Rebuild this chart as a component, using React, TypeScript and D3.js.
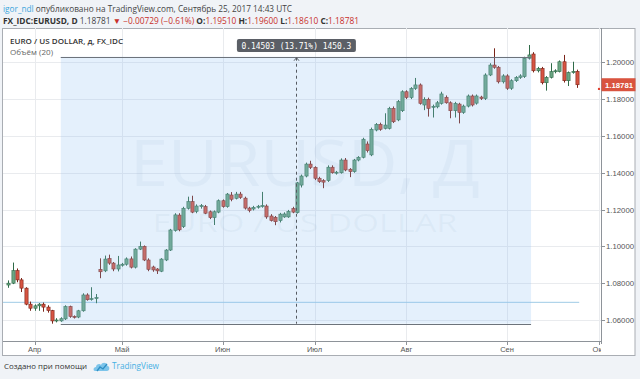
import React from "react";
import * as d3 from "d3";

// ---- DATA ----
const opens = [
  1.0790, 1.0800, 1.0868, 1.0818, 1.0773, 1.0686, 1.0664, 1.0677, 1.0686, 1.0670,
  1.0651, 1.0597, 1.0595, 1.0606, 1.0673, 1.0620, 1.0616, 1.0650, 1.0736, 1.0712,
  1.0716, 1.0875, 1.0867, 1.0934, 1.0909, 1.0877, 1.0899, 1.0903, 1.0932, 1.0887,
  1.0985, 1.1000, 1.0926, 1.0888, 1.0877, 1.0865, 1.0926, 1.0980, 1.1086, 1.1170,
  1.1107, 1.1207, 1.1243, 1.1190, 1.1219, 1.1216, 1.1188, 1.1156, 1.1186, 1.1248,
  1.1216, 1.1279, 1.1261, 1.1284, 1.1262, 1.1208, 1.1203, 1.1214, 1.1217, 1.1219,
  1.1165, 1.1158, 1.1140, 1.1160, 1.1160, 1.1205, 1.1183, 1.1333, 1.1382, 1.1447,
  1.1429, 1.1370, 1.1357, 1.1357, 1.1430, 1.1400, 1.1400, 1.1469, 1.1419, 1.1406,
  1.1469, 1.1484, 1.1556, 1.1497, 1.1632, 1.1663, 1.1641, 1.1641, 1.1750, 1.1687,
  1.1737, 1.1840, 1.1809, 1.1858, 1.1877, 1.1768, 1.1799, 1.1758, 1.1758, 1.1777,
  1.1810, 1.1780, 1.1737, 1.1773, 1.1728, 1.1762, 1.1817, 1.1778, 1.1811, 1.1803,
  1.1931, 1.1985, 1.1973, 1.1894, 1.1926, 1.1859, 1.1900, 1.1918, 1.1922, 1.2022,
  1.2045, 1.1954, 1.1967, 1.1889, 1.1918, 1.1949, 1.1949, 1.2003, 1.1900, 1.1944,
  1.1951,
];
const highs = [
  1.0815, 1.0912, 1.0880, 1.0828, 1.0778, 1.0700, 1.0685, 1.0692, 1.0695, 1.0680,
  1.0655, 1.0610, 1.0615, 1.0680, 1.0678, 1.0625, 1.0655, 1.0745, 1.0745, 1.0778,
  1.0741, 1.0935, 1.0950, 1.0955, 1.0915, 1.0948, 1.0910, 1.0940, 1.0945, 1.0990,
  1.1026, 1.1005, 1.0935, 1.0895, 1.0882, 1.0936, 1.0985, 1.1095, 1.1180, 1.1180,
  1.1215, 1.1270, 1.1275, 1.1228, 1.1230, 1.1225, 1.1195, 1.1195, 1.1255, 1.1255,
  1.1290, 1.1295, 1.1296, 1.1296, 1.1270, 1.1215, 1.1220, 1.1225, 1.1296, 1.1228,
  1.1175, 1.1165, 1.1182, 1.1185, 1.1198, 1.1215, 1.1350, 1.1390, 1.1455, 1.1465,
  1.1435, 1.1378, 1.1365, 1.1440, 1.1440, 1.1410, 1.1478, 1.1480, 1.1425, 1.1475,
  1.1490, 1.1590, 1.1570, 1.1645, 1.1670, 1.1672, 1.1723, 1.1758, 1.1760, 1.1795,
  1.1848, 1.1848, 1.1865, 1.1915, 1.1885, 1.1810, 1.1808, 1.1770, 1.1790, 1.1840,
  1.1820, 1.1788, 1.1785, 1.1780, 1.1770, 1.1825, 1.1825, 1.1825, 1.1818, 1.1940,
  1.1995, 1.2076, 1.1980, 1.1935, 1.1935, 1.1908, 1.1925, 1.1935, 1.2030, 1.2094,
  1.2055, 1.1975, 1.1975, 1.1925, 1.1995, 1.1962, 1.2010, 1.2040, 1.1950, 1.2003,
  1.1960,
];
const lows = [
  1.0775, 1.0795, 1.0805, 1.0752, 1.0680, 1.0650, 1.0650, 1.0650, 1.0645, 1.0640,
  1.0580, 1.0587, 1.0590, 1.0600, 1.0612, 1.0608, 1.0610, 1.0645, 1.0705, 1.0705,
  1.0691, 1.0827, 1.0860, 1.0900, 1.0865, 1.0864, 1.0890, 1.0895, 1.0880, 1.0880,
  1.0980, 1.0920, 1.0865, 1.0862, 1.0850, 1.0860, 1.0920, 1.0975, 1.1080, 1.1082,
  1.1100, 1.1200, 1.1180, 1.1180, 1.1205, 1.1175, 1.1148, 1.1116, 1.1180, 1.1210,
  1.1210, 1.1245, 1.1255, 1.1258, 1.1200, 1.1185, 1.1195, 1.1205, 1.1210, 1.1150,
  1.1135, 1.1115, 1.1130, 1.1155, 1.1155, 1.1180, 1.1178, 1.1320, 1.1375, 1.1420,
  1.1360, 1.1345, 1.1316, 1.1350, 1.1395, 1.1390, 1.1395, 1.1408, 1.1376, 1.1400,
  1.1462, 1.1478, 1.1510, 1.1490, 1.1625, 1.1628, 1.1635, 1.1635, 1.1670, 1.1680,
  1.1730, 1.1800, 1.1800, 1.1850, 1.1770, 1.1740, 1.1705, 1.1700, 1.1750, 1.1770,
  1.1775, 1.1696, 1.1700, 1.1668, 1.1720, 1.1755, 1.1760, 1.1770, 1.1795, 1.1795,
  1.1925, 1.1965, 1.1885, 1.1885, 1.1850, 1.1850, 1.1893, 1.1910, 1.1915, 1.2015,
  1.1945, 1.1945, 1.1880, 1.1846, 1.1912, 1.1940, 1.1945, 1.1890, 1.1871, 1.1938,
  1.1861,
];
const closes = [
  1.0800, 1.0868, 1.0818, 1.0773, 1.0686, 1.0664, 1.0677, 1.0686, 1.0670, 1.0651,
  1.0595, 1.0600, 1.0607, 1.0673, 1.0619, 1.0615, 1.0650, 1.0736, 1.0710, 1.0716,
  1.0722, 1.0862, 1.0931, 1.0909, 1.0877, 1.0899, 1.0903, 1.0932, 1.0887, 1.0985,
  1.0999, 1.0926, 1.0875, 1.0872, 1.0867, 1.0931, 1.0980, 1.1089, 1.1171, 1.1090,
  1.1207, 1.1243, 1.1186, 1.1219, 1.1221, 1.1180, 1.1156, 1.1188, 1.1248, 1.1216,
  1.1284, 1.1256, 1.1284, 1.1266, 1.1208, 1.1195, 1.1212, 1.1218, 1.1222, 1.1160,
  1.1140, 1.1134, 1.1175, 1.1176, 1.1190, 1.1186, 1.1345, 1.1382, 1.1447, 1.1429,
  1.1370, 1.1352, 1.1349, 1.1430, 1.1400, 1.1403, 1.1469, 1.1415, 1.1406, 1.1469,
  1.1484, 1.1582, 1.1520, 1.1636, 1.1663, 1.1636, 1.1659, 1.1750, 1.1677, 1.1786,
  1.1840, 1.1809, 1.1858, 1.1877, 1.1777, 1.1799, 1.1750, 1.1761, 1.1780, 1.1828,
  1.1780, 1.1737, 1.1777, 1.1728, 1.1762, 1.1817, 1.1768, 1.1817, 1.1803, 1.1931,
  1.1985, 1.1973, 1.1894, 1.1926, 1.1859, 1.1900, 1.1918, 1.1926, 1.2022, 1.2040,
  1.1954, 1.1967, 1.1889, 1.1918, 1.1949, 1.1954, 1.2003, 1.1900, 1.1944, 1.1951,
  1.18781,
];
const priceTicks = [1.06, 1.08, 1.1, 1.12, 1.14, 1.16, 1.18, 1.2];
const monthLabels = ["Апр", "Май", "Июн", "Июл", "Авг", "Сен", "Окт"];
const monthTickIdx = [6, 26, 49, 70, 91, 114, 135];
const lastPrice = 1.18781;
const measureFromIdx = 12;
const measureToIdx = 119.5;
const measureLow = 1.058;
const measureHigh = 1.20303;
const measureText = "0.14503 (13.71%) 1450.3";
const hLinePrice = 1.0696;
const hLineIdx = [-3, 130.5];

const UP = "#6ba583";
const UP_B = "#2f6b48";
const DN = "#d75442";
const DN_B = "#7a2419";

export default function App() {
  const W = 640;
  const H = 379;
  const plot = { left: 3, right: 601, top: 28, bottom: 341 };
  const x = d3.scaleLinear().domain([0, 130]).range([8.25, 577]);
  const y = d3.scaleLinear().domain([1.04859, 1.21863]).range([341, 28]);
  const bw = 3.2;

  const candles = d3.range(closes.length).map((i) => ({
    i,
    o: opens[i],
    h: highs[i],
    l: lows[i],
    c: closes[i],
  }));

  const mx0 = x(measureFromIdx);
  const mx1 = x(measureToIdx);
  const my0 = y(measureHigh);
  const my1 = y(measureLow);
  const mMid = (mx0 + mx1) / 2;
  const font = "'Open Sans', 'Liberation Sans', sans-serif";
  const axisFont = "'Liberation Sans', Arial, sans-serif";

  return (
    <svg
      width={W}
      height={H}
      style={{ position: "absolute", left: 0, top: 0 }}
      xmlns="http://www.w3.org/2000/svg"
    >
      <defs>
        <clipPath id="plotClip">
          <rect x={plot.left} y={plot.top} width={plot.right - plot.left} height={plot.bottom - plot.top} />
        </clipPath>
        <clipPath id="axisClip">
          <rect x={plot.left} y={plot.bottom} width={plot.right - plot.left} height={16} />
        </clipPath>
      </defs>
      <rect x={0} y={0} width={W} height={H} fill="#f0f3f7" />

      {/* header */}
      <text x={3} y={11.5} fontFamily={font} fontSize={8.2} textLength={289} lengthAdjust="spacingAndGlyphs">
        <tspan fill="#3ea6dd">igor_ndl</tspan>
        <tspan fill="#444"> опубликовано на TradingView.com, Сентябрь 25, 2017 14:43 UTC</tspan>
      </text>
      <text x={3} y={23.5} fontFamily={font} fontSize={8.2} textLength={356} lengthAdjust="spacingAndGlyphs">
        <tspan fill="#333" fontWeight={700}>FX_IDC:EURUSD, D</tspan>
        <tspan fill="#444"> 1.18781 </tspan>
        <tspan fill="#c8302a">▼ −0.00729 (−0.61%) </tspan>
        <tspan fill="#333" fontWeight={700}>O:</tspan>
        <tspan fill="#c8302a">1.19510 </tspan>
        <tspan fill="#333" fontWeight={700}>H:</tspan>
        <tspan fill="#c8302a">1.19600 </tspan>
        <tspan fill="#333" fontWeight={700}>L:</tspan>
        <tspan fill="#c8302a">1.18610 </tspan>
        <tspan fill="#333" fontWeight={700}>C:</tspan>
        <tspan fill="#c8302a">1.18781</tspan>
      </text>

      {/* chart box */}
      <rect x={2.5} y={28.5} width={632.5} height={327} fill="#ffffff" stroke="#a9adb3" strokeWidth={1} />

      <g clipPath="url(#plotClip)">
        {/* grid */}
        {priceTicks.map((p) => (
          <line key={"g" + p} x1={plot.left} x2={plot.right} y1={Math.round(y(p)) + 0.5} y2={Math.round(y(p)) + 0.5} stroke="#e9ebee" />
        ))}
        {monthTickIdx.map((m, k) => (
          <line key={"v" + k} x1={Math.round(x(m)) + 0.5} x2={Math.round(x(m)) + 0.5} y1={plot.top} y2={plot.bottom} stroke="#e9ebee" />
        ))}

        {/* watermark */}
        <text x={305} y={186} textAnchor="middle" fontFamily={font} fontSize={64} fill="#8aa0b8" fillOpacity={0.09} textLength={350} lengthAdjust="spacingAndGlyphs">
          EURUSD, Д
        </text>
        <text x={305} y={232} textAnchor="middle" fontFamily={font} fontSize={26} fill="#8aa0b8" fillOpacity={0.09} textLength={305} lengthAdjust="spacingAndGlyphs">
          EURO / US DOLLAR
        </text>

        {/* horizontal line */}
        <line x1={x(hLineIdx[0])} x2={x(hLineIdx[1])} y1={y(hLinePrice)} y2={y(hLinePrice)} stroke="#9fcbe6" strokeWidth={1} />

        {/* candles */}
        {candles.map((d) => {
          const up = d.c >= d.o;
          const cx = Math.round(x(d.i)) + 0.5;
          const top = y(Math.max(d.o, d.c));
          const bot = y(Math.min(d.o, d.c));
          const hgt = Math.max(1, bot - top);
          return (
            <g key={d.i}>
              <line x1={cx} x2={cx} y1={y(d.h)} y2={y(d.l)} stroke={up ? UP_B : DN_B} strokeWidth={1} />
              <rect x={cx - bw / 2} y={top} width={bw} height={hgt} fill={up ? UP : DN} stroke={up ? UP_B : DN_B} strokeWidth={0.6} />
            </g>
          );
        })}

        {/* measurement */}
        <rect x={mx0} y={my0} width={mx1 - mx0} height={my1 - my0} fill="rgb(140,190,240)" fillOpacity={0.23} />
        <line x1={mx0} x2={mx1} y1={Math.round(my0) + 0.5} y2={Math.round(my0) + 0.5} stroke="#6d737b" strokeWidth={1} />
        <line x1={mx0} x2={mx1} y1={Math.round(my1) + 0.5} y2={Math.round(my1) + 0.5} stroke="#6d737b" strokeWidth={1} />
        <line x1={Math.round(mMid) + 0.5} x2={Math.round(mMid) + 0.5} y1={my0 + 1} y2={my1} stroke="#555a61" strokeWidth={1} strokeDasharray="3,3" />
        <path d={`M${Math.round(mMid) + 0.5 - 2.5},${my0 + 4} L${Math.round(mMid) + 0.5},${my0 + 1} L${Math.round(mMid) + 0.5 + 2.5},${my0 + 4}`} fill="none" stroke="#555a61" strokeWidth={1} />
      </g>

      {/* measurement label */}
      <rect x={mMid - 59} y={39} width={119} height={13} rx={2} fill="#5b5f66" />
      <text x={mMid + 0.5} y={48.6} textAnchor="middle" fontFamily="'DejaVu Sans Mono', 'Liberation Mono', monospace" fontSize={8} fill="#ffffff" textLength={110} lengthAdjust="spacingAndGlyphs">
        {measureText}
      </text>

      {/* legend */}
      <text x={10} y={44} fontFamily={font} fontSize={7.6} fontWeight={600} fill="#333" textLength={113} lengthAdjust="spacingAndGlyphs">
        EURO / US DOLLAR, д, FX_IDC
      </text>
      <text x={10} y={55} fontFamily={font} fontSize={7.6} fill="#666" textLength={43} lengthAdjust="spacingAndGlyphs">
        Объём (20)
      </text>

      {/* y axis */}
      <line x1={plot.right + 0.5} x2={plot.right + 0.5} y1={plot.top} y2={plot.bottom + 3} stroke="#8e9399" />
      {priceTicks.map((p) => (
        <g key={"t" + p}>
          <line x1={plot.right} x2={plot.right + 4} y1={Math.round(y(p)) + 0.5} y2={Math.round(y(p)) + 0.5} stroke="#8e9399" />
          <text x={606} y={y(p) + 3} fontFamily={axisFont} fontSize={8} fill="#555" textLength={28} lengthAdjust="spacingAndGlyphs">
            {d3.format(".5f")(p)}
          </text>
        </g>
      ))}
      <rect x={plot.right + 0.5} y={y(lastPrice) - 6.5} width={34} height={13} fill="#d9533f" />
      <text x={605} y={y(lastPrice) + 3} fontFamily={axisFont} fontSize={8} fontWeight={700} fill="#ffffff" textLength={28} lengthAdjust="spacingAndGlyphs">
        {d3.format(".5f")(lastPrice)}
      </text>
      <circle cx={599} cy={y(1.1861) + 1} r={1.2} fill="#e0402f" />

      {/* x axis */}
      <line x1={plot.left} x2={plot.right} y1={plot.bottom + 0.5} y2={plot.bottom + 0.5} stroke="#8e9399" />
      <g clipPath="url(#axisClip)">
        {monthTickIdx.map((m, k) => (
          <g key={"m" + k}>
            <line x1={Math.round(x(m)) + 0.5} x2={Math.round(x(m)) + 0.5} y1={plot.bottom} y2={plot.bottom + 4} stroke="#8e9399" />
            <text x={x(m)} y={352} textAnchor="middle" fontFamily={axisFont} fontSize={7.5} fill="#555">
              {monthLabels[k]}
            </text>
          </g>
        ))}
      </g>

      {/* footer */}
      <text x={4} y={369} fontFamily={font} fontSize={8} fill="#333" textLength={83} lengthAdjust="spacingAndGlyphs">
        Создано при помощи
      </text>
      <g transform="translate(93,361)">
        <path d="M2,10 C0,10 0,6 3,6 C3,3 7,2 8,4 C9,1 14,1 14.5,5 C17,5 17,10 14,10 Z" fill="#7cc4ea" />
        <path d="M4,10 L7,6 L10,8 L14,3" fill="none" stroke="#2f8fc4" strokeWidth={1.3} />
      </g>
      <text x={112} y={369} fontFamily={font} fontSize={8.5} fill="#45b0e3" textLength={47} lengthAdjust="spacingAndGlyphs">
        TradingView
      </text>
    </svg>
  );
}
